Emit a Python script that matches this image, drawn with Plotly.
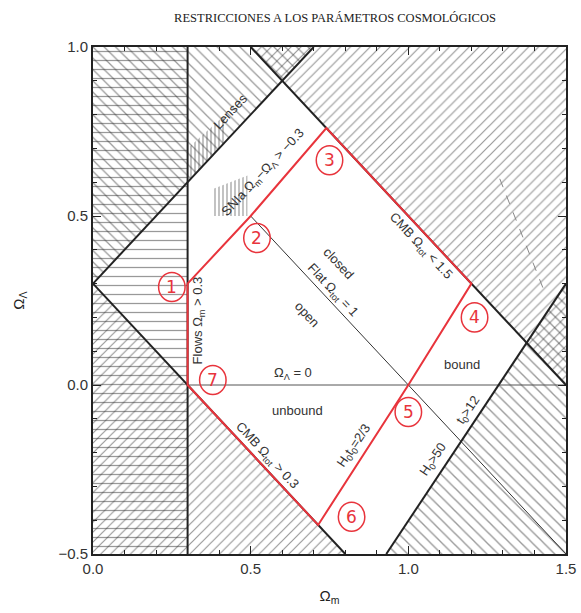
import plotly.graph_objects as go

# ---------------- data (Omega_m, Omega_Lambda) ----------------
title_text = "RESTRICCIONES A LOS PARÁMETROS COSMOLÓGICOS"

# constraint boundary lines
flows_om = [0.3, 0.3]
flows_ol = [-0.5, 1.0]
snia_om = [0.0, 0.7]
snia_ol = [0.3, 1.0]
cmb_low_om = [0.0, 0.8]
cmb_low_ol = [0.3, -0.5]
cmb_high_om = [0.5, 1.5]
cmb_high_ol = [1.0, 0.0]
h0t0_om = [0.93, 1.5]
h0t0_ol = [-0.5, 0.3]
flat_om = [0.5, 1.5]
flat_ol = [0.5, -0.5]
lam0_om = [0.3, 1.5]
lam0_ol = [0.0, 0.0]
dash_om = [1.29, 1.43]
dash_ol = [0.61, 0.28]

# excluded regions (polygons)
flows_reg_om = [0.0, 0.3, 0.3, 0.0]
flows_reg_ol = [-0.5, -0.5, 1.0, 1.0]
snia_reg_om = [0.0, 0.7, 0.0]
snia_reg_ol = [0.3, 1.0, 1.0]
cmbh_reg_om = [0.5, 1.5, 1.5]
cmbh_reg_ol = [1.0, 0.0, 1.0]
cmbl_reg_om = [0.0, 0.8, 0.0]
cmbl_reg_ol = [0.3, -0.5, -0.5]
h0_reg_om = [0.93, 1.5, 1.5]
h0_reg_ol = [-0.5, 0.3, -0.5]
lens_band_om = [0.30, 0.42, 0.42, 0.30]
lens_band_ol = [0.60, 0.72, 0.80, 0.70]
snia_band_om = [0.38, 0.49, 0.49, 0.38]
snia_band_ol = [0.50, 0.50, 0.62, 0.58]

# allowed region (red polygon, vertices 1..7)
red_om = [0.3, 0.5, 0.74, 1.2, 1.0, 0.714, 0.3, 0.3]
red_ol = [0.3, 0.5, 0.76, 0.3, 0.0, -0.414, 0.0, 0.3]

# numbered red circles
circ_labels = ["1", "2", "3", "4", "5", "6", "7"]
circ_om = [0.25, 0.52, 0.75, 1.21, 1.0, 0.82, 0.38]
circ_ol = [0.29, 0.435, 0.665, 0.20, -0.08, -0.39, 0.015]

# text labels
lab_text = ["Lenses", "SNIa Ω<sub>m</sub>−Ω<sub>Λ</sub> &gt; −0.3", "CMB Ω<sub>tot</sub> &lt; 1.5",
            "closed", "Flat Ω<sub>tot</sub> = 1", "open", "Ω<sub>Λ</sub> = 0", "bound", "unbound",
            "CMB Ω<sub>tot</sub> &gt; 0.3", "Flows Ω<sub>m</sub> &gt; 0.3", "H<sub>0</sub>t<sub>0</sub>=2/3",
            "H<sub>0</sub>&gt;50", "t<sub>0</sub>&gt;12"]
lab_om = [0.435, 0.54, 1.04, 0.78, 0.76, 0.68, 0.635, 1.17, 0.65, 0.55, 0.335, 0.83, 1.08, 1.19]
lab_ol = [0.81, 0.63, 0.41, 0.36, 0.28, 0.21, 0.035, 0.06, -0.075, -0.21, 0.19, -0.18, -0.22, -0.075]
lab_ang = [-47, -47, 47, 47, 47, 47, 0, 0, 0, 47, -90, -56, -56, -56]

fig = go.Figure()

HATCH = "#333333"

def region(xs, ys, shape, size, solid=0.14, color=HATCH):
    fig.add_trace(go.Scatter(x=xs + [xs[0]], y=ys + [ys[0]], mode="lines", fill="toself",
                             fillcolor="rgba(0,0,0,0)", line=dict(width=0, color="rgba(0,0,0,0)"),
                             fillpattern=dict(shape=shape, fgcolor=color, size=size, solidity=solid),
                             hoverinfo="skip", showlegend=False))

region(flows_reg_om, flows_reg_ol, "-", 9, 0.14)
region(snia_reg_om, snia_reg_ol, "\\", 8, 0.16)
region(cmbh_reg_om, cmbh_reg_ol, "/", 7, 0.17)
region(cmbl_reg_om, cmbl_reg_ol, "/", 7, 0.17)
region(h0_reg_om, h0_reg_ol, "\\", 8, 0.17)
region(lens_band_om, lens_band_ol, "|", 4, 0.3, "#333333")
region(snia_band_om, snia_band_ol, "|", 4, 0.3, "#333333")

def line(xs, ys, w, color="#222222", dash="solid"):
    fig.add_trace(go.Scatter(x=xs, y=ys, mode="lines", line=dict(width=w, color=color, dash=dash),
                             hoverinfo="skip", showlegend=False))

line(lam0_om, lam0_ol, 1, "#555555")
line(flat_om, flat_ol, 1, "#333333")
line(dash_om, dash_ol, 1, "#888888", "dash")
line(flows_om, flows_ol, 2)
line(snia_om, snia_ol, 2)
line(cmb_low_om, cmb_low_ol, 2)
line(cmb_high_om, cmb_high_ol, 2)
line(h0t0_om, h0t0_ol, 2)

RED = "#e8343c"
line(red_om, red_ol, 2, RED)

shapes = []
rx, ry = 0.042, 0.043
for cx, cy in zip(circ_om, circ_ol):
    shapes.append(dict(type="circle", xref="x", yref="y", x0=cx - rx, x1=cx + rx,
                       y0=cy - ry, y1=cy + ry, line=dict(color=RED, width=1.5), layer="above"))

annotations = []
for t, cx, cy in zip(circ_labels, circ_om, circ_ol):
    annotations.append(dict(x=cx, y=cy, xref="x", yref="y", text=t, showarrow=False,
                            font=dict(family="DejaVu Sans", size=17, color=RED)))
for t, x, y, a in zip(lab_text, lab_om, lab_ol, lab_ang):
    annotations.append(dict(x=x, y=y, xref="x", yref="y", text=t, textangle=a, showarrow=False,
                            font=dict(family="Liberation Sans", size=13, color="#333333")))

W, H = 581, 613

axis_common = dict(showgrid=False, zeroline=False, showline=True, linecolor="#222222", linewidth=2,
                   mirror="allticks", ticks="inside", ticklen=8, tickwidth=1, tickcolor="#222222",
                   dtick=0.5, tickformat=".1f",
                   minor=dict(ticks="inside", ticklen=4, dtick=0.1, tickcolor="#222222", showgrid=False),
                   tickfont=dict(family="Liberation Sans", size=15, color="#333333"))

fig.update_layout(
    width=W, height=H,
    margin=dict(l=93, r=15, t=47, b=59, autoexpand=False),
    plot_bgcolor="white", paper_bgcolor="white",
    title=dict(text=title_text, x=335 / W, y=1 - 18 / H, xref="container", yref="container",
               xanchor="center", yanchor="middle",
               font=dict(family="Liberation Serif", size=12.5, color="#222222")),
    xaxis=dict(range=[0, 1.5], tick0=0, title=dict(text="Ω<sub>m</sub>", standoff=14,
               font=dict(family="Liberation Sans", size=15, color="#222222")), **axis_common),
    yaxis=dict(range=[-0.5, 1.0], tick0=-0.5, title=dict(text="Ω<sub>Λ</sub>", standoff=30,
               font=dict(family="Liberation Sans", size=15, color="#222222")), **axis_common),
    shapes=shapes, annotations=annotations,
)

fig.write_html("out.html", config={"displayModeBar": False},
               post_script="document.body.style.margin='0';document.body.style.overflow='hidden';")
